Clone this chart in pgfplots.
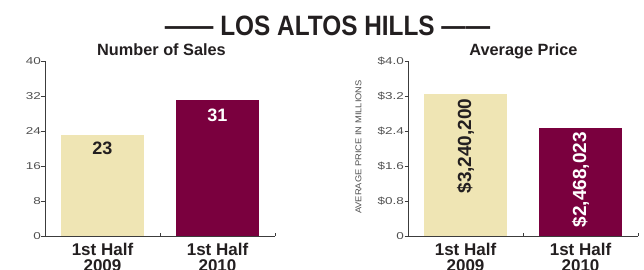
\documentclass[border=0pt]{standalone}
\usepackage{pgfplots}
\pgfplotsset{compat=1.18}
\usepackage{fontspec}
\setmainfont{Liberation Sans}
\newfontfamily\titlefont[FakeStretch=0.87]{Liberation Sans}
\newfontfamily\tickfont[FakeStretch=1.35]{Liberation Sans}
\newfontfamily\labfont[FakeStretch=1.1]{Liberation Sans}
\definecolor{beige}{RGB}{239,229,180}
\definecolor{maroon}{RGB}{122,0,62}
\definecolor{ink}{RGB}{35,31,32}
\definecolor{axgray}{RGB}{60,60,60}
\definecolor{tickgray}{RGB}{80,80,80}
\pgfplotsset{
  mystyle/.style={
    scale only axis, width=230pt, height=175pt,
    anchor=south west, clip=false,
    xmin=-0.5, xmax=1.5, ymin=0,
    axis x line*=bottom, axis y line*=left,
    axis line style={axgray, line width=0.9pt, -},
    /pgf/number format/assume math mode=true,
    xtick={0,1},
    xticklabels={{1st Half\\2009},{1st Half\\2010}},
    xticklabel style={font=\fontsize{17}{16}\selectfont\bfseries, text=ink, align=center, inner sep=0pt},
    xticklabel shift=7pt,
    xtick style={draw=none},
    extra x ticks={0.5,1.5},
    extra x tick labels={},
    extra x tick style={xtick style={draw=axgray, line width=0.8pt}, xtick align=inside},
    ytick align=outside,
    major tick length=3.5pt,
    ytick style={draw=axgray, line width=0.8pt},
    yticklabel style={font=\fontsize{10}{12}\selectfont\tickfont, text=tickgray, inner sep=0pt},
    yticklabel shift=0.5pt,
  }
}
\begin{document}
\begin{tikzpicture}[x=1pt,y=1pt]
\useasboundingbox (0,0) rectangle (644,269);
\clip (0,0) rectangle (644,269);
\node[anchor=base, text=ink, font=\fontsize{28}{30}\selectfont\titlefont\bfseries] at (327.5,234) {—— LOS ALTOS HILLS ——};
\node[anchor=base, text=ink, font=\fontsize{16.3}{18}\selectfont\bfseries] at (161.5,214) {Number of Sales};
\node[anchor=base, text=ink, font=\fontsize{16.3}{18}\selectfont\bfseries] at (523.5,214) {Average Price};
\node[rotate=90, text=tickgray, font=\fontsize{8.5}{10}\selectfont\labfont] at (358.5,122) {AVERAGE PRICE IN MILLIONS};

\begin{axis}[mystyle, at={(45pt,33pt)}, ymax=40,
  ytick={0,8,16,24,32,40}, yticklabels={0,8,16,24,32,40}]
  \addplot[ybar, bar width=83pt, bar shift=0pt, fill=beige, draw=none] coordinates {(0,23)};
  \addplot[ybar, bar width=83pt, bar shift=0pt, fill=maroon, draw=none] coordinates {(1,31)};
  \node[anchor=center, yshift=-13pt, text=ink, font=\fontsize{18}{18}\selectfont\bfseries] at (axis cs:0,23) {23};
  \node[anchor=center, yshift=-14.5pt, text=white, font=\fontsize{18}{18}\selectfont\bfseries] at (axis cs:1,31) {31};
\end{axis}

\begin{axis}[mystyle, at={(408pt,33pt)}, ymax=4,
  ytick={0,0.8,1.6,2.4,3.2,4.0}, yticklabels={0,\$0.8,\$1.6,\$2.4,\$3.2,\$4.0}]
  \addplot[ybar, bar width=83pt, bar shift=0pt, fill=beige, draw=none] coordinates {(0,3.2402)};
  \addplot[ybar, bar width=83pt, bar shift=0pt, fill=maroon, draw=none] coordinates {(1,2.468023)};
  \node[rotate=90, anchor=east, inner xsep=4pt, text=ink, font=\fontsize{19}{19}\selectfont\bfseries] at (axis cs:0,3.2402) {\$3,240,200};
  \node[rotate=90, anchor=east, inner xsep=4pt, text=white, font=\fontsize{19}{19}\selectfont\bfseries] at (axis cs:1,2.468023) {\$2,468,023};
\end{axis}
\end{tikzpicture}
\end{document}
